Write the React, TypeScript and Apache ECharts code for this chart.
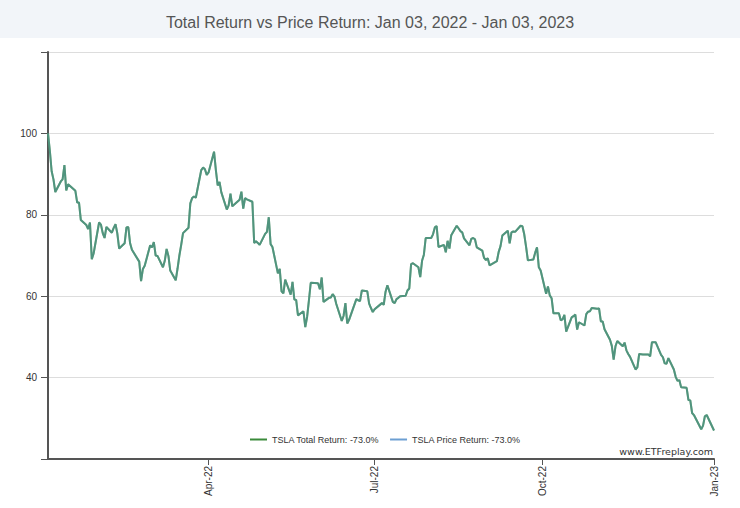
import React, { useEffect, useRef } from "react";
import * as echarts from "echarts";

const titleText = "Total Return vs Price Return: Jan 03, 2022 - Jan 03, 2023";
const seriesNames = ["TSLA Total Return: -73.0%", "TSLA Price Return: -73.0%"];

const dates = [
  "2022-01-03","2022-01-04","2022-01-05","2022-01-06","2022-01-07","2022-01-10","2022-01-11","2022-01-12","2022-01-13","2022-01-14",
  "2022-01-18","2022-01-19","2022-01-20","2022-01-21","2022-01-24","2022-01-25","2022-01-26","2022-01-27","2022-01-28","2022-01-31",
  "2022-02-01","2022-02-02","2022-02-03","2022-02-04","2022-02-07","2022-02-08","2022-02-09","2022-02-10","2022-02-11","2022-02-14",
  "2022-02-15","2022-02-16","2022-02-17","2022-02-18","2022-02-22","2022-02-23","2022-02-24","2022-02-25","2022-02-28",
  "2022-03-01","2022-03-02","2022-03-03","2022-03-04","2022-03-07","2022-03-08","2022-03-09","2022-03-10","2022-03-11","2022-03-14",
  "2022-03-15","2022-03-16","2022-03-17","2022-03-18","2022-03-21","2022-03-22","2022-03-23","2022-03-24","2022-03-25","2022-03-28",
  "2022-03-29","2022-03-30","2022-03-31",
  "2022-04-01","2022-04-04","2022-04-05","2022-04-06","2022-04-07","2022-04-08","2022-04-11","2022-04-12","2022-04-13","2022-04-14",
  "2022-04-18","2022-04-19","2022-04-20","2022-04-21","2022-04-22","2022-04-25","2022-04-26","2022-04-27","2022-04-28","2022-04-29",
  "2022-05-02","2022-05-03","2022-05-04","2022-05-05","2022-05-06","2022-05-09","2022-05-10","2022-05-11","2022-05-12","2022-05-13",
  "2022-05-16","2022-05-17","2022-05-18","2022-05-19","2022-05-20","2022-05-23","2022-05-24","2022-05-25","2022-05-26","2022-05-27",
  "2022-05-31",
  "2022-06-01","2022-06-02","2022-06-03","2022-06-06","2022-06-07","2022-06-08","2022-06-09","2022-06-10","2022-06-13","2022-06-14",
  "2022-06-15","2022-06-16","2022-06-17","2022-06-21","2022-06-22","2022-06-23","2022-06-24","2022-06-27","2022-06-28","2022-06-29",
  "2022-06-30",
  "2022-07-01","2022-07-05","2022-07-06","2022-07-07","2022-07-08","2022-07-11","2022-07-12","2022-07-13","2022-07-14","2022-07-15",
  "2022-07-18","2022-07-19","2022-07-20","2022-07-21","2022-07-22","2022-07-25","2022-07-26","2022-07-27","2022-07-28","2022-07-29",
  "2022-08-01","2022-08-02","2022-08-03","2022-08-04","2022-08-05","2022-08-08","2022-08-09","2022-08-10","2022-08-11","2022-08-12",
  "2022-08-15","2022-08-16","2022-08-17","2022-08-18","2022-08-19","2022-08-22","2022-08-23","2022-08-24","2022-08-25","2022-08-26",
  "2022-08-29","2022-08-30","2022-08-31",
  "2022-09-01","2022-09-02","2022-09-06","2022-09-07","2022-09-08","2022-09-09","2022-09-12","2022-09-13","2022-09-14","2022-09-15",
  "2022-09-16","2022-09-19","2022-09-20","2022-09-21","2022-09-22","2022-09-23","2022-09-26","2022-09-27","2022-09-28","2022-09-29",
  "2022-09-30",
  "2022-10-03","2022-10-04","2022-10-05","2022-10-06","2022-10-07","2022-10-10","2022-10-11","2022-10-12","2022-10-13","2022-10-14",
  "2022-10-17","2022-10-18","2022-10-19","2022-10-20","2022-10-21","2022-10-24","2022-10-25","2022-10-26","2022-10-27","2022-10-28",
  "2022-10-31",
  "2022-11-01","2022-11-02","2022-11-03","2022-11-04","2022-11-07","2022-11-08","2022-11-09","2022-11-10","2022-11-11","2022-11-14",
  "2022-11-15","2022-11-16","2022-11-17","2022-11-18","2022-11-21","2022-11-22","2022-11-23","2022-11-25","2022-11-28","2022-11-29",
  "2022-11-30",
  "2022-12-01","2022-12-02","2022-12-05","2022-12-06","2022-12-07","2022-12-08","2022-12-09","2022-12-12","2022-12-13","2022-12-14",
  "2022-12-15","2022-12-16","2022-12-19","2022-12-20","2022-12-21","2022-12-22","2022-12-23","2022-12-27","2022-12-28","2022-12-29",
  "2022-12-30","2023-01-03",
];

const totalReturn = [
  100.0,95.8,90.7,88.7,85.6,88.2,88.7,92.2,86.0,87.5,
  85.9,83.0,83.0,78.7,77.5,76.5,78.1,69.1,70.5,78.1,
  77.6,75.5,74.3,77.0,75.6,76.8,77.7,75.4,71.7,73.0,
  76.9,77.0,73.0,71.4,68.5,63.7,66.7,67.5,72.5,
  72.0,73.3,70.0,69.9,67.1,68.7,71.6,69.9,66.3,63.9,
  66.8,70.0,72.6,75.5,76.8,82.8,84.1,84.5,84.2,91.0,
  91.6,91.2,89.8,
  90.4,95.5,91.0,87.2,88.1,85.5,81.3,82.3,85.2,82.1,
  83.7,85.7,81.5,84.1,83.8,83.2,73.1,73.5,73.1,72.6,
  75.3,75.8,79.4,72.8,72.1,65.6,66.7,61.2,60.7,64.1,
  60.4,63.5,59.2,59.1,55.3,56.3,52.4,54.9,59.0,63.3,
  63.2,
  61.7,64.6,58.6,59.6,59.7,60.5,59.9,58.1,53.9,55.2,
  58.3,53.3,54.2,59.3,59.0,58.8,61.4,61.2,58.2,57.1,
  56.1,
  56.8,58.3,57.9,61.1,62.7,58.6,58.3,59.3,59.6,60.0,
  60.1,61.4,61.9,67.9,68.1,67.1,64.7,68.7,70.2,74.3,
  74.3,75.2,76.9,77.2,72.1,72.6,70.8,73.6,71.7,75.0,
  77.3,76.7,76.0,75.7,74.2,72.5,74.1,74.3,74.0,72.0,
  71.2,69.4,68.9,
  69.3,67.6,68.6,70.9,72.3,74.9,76.1,73.0,75.7,75.9,
  75.8,77.3,77.2,75.2,72.2,68.8,69.0,70.7,72.0,67.1,
  66.3,
  60.6,62.4,60.2,59.5,55.8,55.8,54.1,54.3,55.4,51.3,
  54.8,55.1,55.5,51.8,53.6,52.8,55.6,56.2,56.3,57.1,
  56.9,
  57.0,53.8,53.8,51.9,49.3,47.8,44.4,47.7,49.0,47.7,
  48.6,46.7,45.8,45.1,42.0,42.5,45.8,45.7,45.7,45.2,
  48.7,
  48.7,48.7,45.6,45.0,43.5,43.4,44.8,42.0,40.2,39.2,
  39.4,37.6,37.5,34.5,34.4,31.3,30.8,27.3,28.2,30.5,
  30.8,27.0,
];

// TSLA pays no dividend: price return equals total return
const priceReturn = [...totalReturn];

const yTicks = [20, 40, 60, 80, 100, 120];
const yLabelsShown = [40, 60, 80, 100];
const xTickDates = ["2022-04-01", "2022-07-01", "2022-10-01", "2023-01-03"];
const xTickLabels = ["Apr-22", "Jul-22", "Oct-22", "Jan-23"];

function parseLocal(s: string): number {
  const [y, m, d] = s.split("-").map(Number);
  return Date.UTC(y, m - 1, d);
}

export default function App() {
  const ref = useRef<HTMLDivElement>(null);

  useEffect(() => {
    if (!ref.current) return;
    const chart = echarts.init(ref.current, null, { renderer: "svg" });
    const xTickValues = xTickDates.map(parseLocal);
    const font = "Arial, 'Liberation Sans', Helvetica, sans-serif";

    chart.setOption({
      animation: false,
      backgroundColor: "#ffffff",
      textStyle: { fontFamily: font },
      title: {
        text: titleText,
        left: "center",
        top: 9,
        textStyle: { fontSize: 16, fontWeight: "normal", color: "#555555", fontFamily: font },
      },
      graphic: [
        {
          type: "rect",
          z: -10,
          silent: true,
          shape: { x: 0, y: 0, width: 740, height: 38 },
          style: { fill: "#f2f5f9" },
        },
        {
          type: "text",
          right: 27,
          top: 446,
          style: {
            text: "www.ETFreplay.com",
            fill: "#333333",
            fontSize: 9.5,
            fontFamily: "'DejaVu Sans', Verdana, sans-serif",
          },
        },
      ],
      legend: {
        top: 430,
        left: 245,
        itemWidth: 17,
        itemHeight: 2,
        itemGap: 11,
        icon: "rect",
        textStyle: { fontSize: 9, color: "#333333", fontFamily: font },
        data: seriesNames,
      },
      grid: { left: 48, right: 26, top: 52, bottom: 49, containLabel: false },
      xAxis: {
        type: "value",
        min: parseLocal(dates[0]),
        max: parseLocal(dates[dates.length - 1]),
        axisLine: { show: true, onZero: false, lineStyle: { color: "#555555", width: 2 } },
        axisTick: { show: true, length: 6, lineStyle: { color: "#555555", width: 1 }, customValues: xTickValues },
        axisLabel: {
          customValues: xTickValues,
          rotate: 90,
          margin: 7,
          fontSize: 10,
          color: "#333333",
          fontFamily: font,
          formatter: (v: number) => {
            const i = xTickValues.findIndex((t) => Math.abs(t - v) < 43200000);
            return i >= 0 ? xTickLabels[i] : "";
          },
        },
        splitLine: { show: false },
      },
      yAxis: {
        type: "value",
        min: yTicks[0],
        max: yTicks[yTicks.length - 1],
        interval: 20,
        axisLine: { show: true, onZero: false, lineStyle: { color: "#555555", width: 2 } },
        axisTick: { show: true, length: 7, lineStyle: { color: "#555555", width: 1 } },
        axisLabel: {
          margin: 11,
          fontSize: 10,
          color: "#333333",
          fontFamily: font,
          formatter: (v: number) => (yLabelsShown.includes(v) ? String(v) : ""),
        },
        splitLine: { show: true, lineStyle: { color: "#dddddd", width: 1 } },
      },
      series: [
        {
          name: seriesNames[0],
          type: "line",
          showSymbol: false,
          color: "#3a8a3a",
          lineStyle: { width: 2, color: "#3a8a3a" },
          data: dates.map((d, i) => [parseLocal(d), totalReturn[i]]),
          z: 2,
        },
        {
          name: seriesNames[1],
          type: "line",
          showSymbol: false,
          color: "#6c9fd2",
          lineStyle: { width: 2, color: "#6c9fd2", opacity: 0.45 },
          data: dates.map((d, i) => [parseLocal(d), priceReturn[i]]),
          z: 3,
        },
      ],
    });

    return () => chart.dispose();
  }, []);

  return <div ref={ref} style={{ position: "fixed", left: 0, top: 0, width: 740, height: 508 }} />;
}
